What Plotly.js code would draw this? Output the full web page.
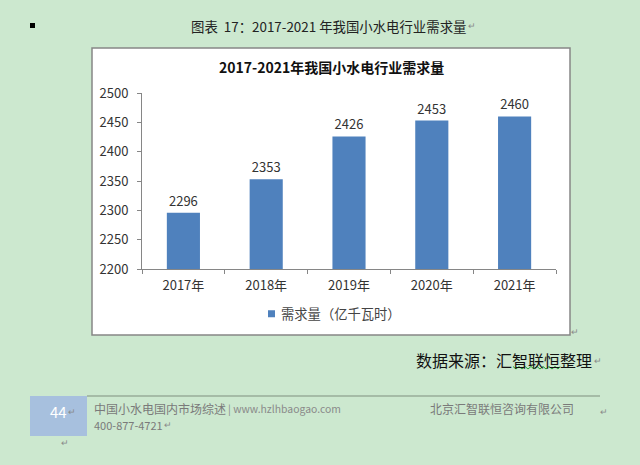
<!DOCTYPE html>
<html><head><meta charset="utf-8">
<script src="https://cdn.plot.ly/plotly-3.0.1.min.js"></script>
<style>html,body{margin:0;padding:0;background:#cce8cf}</style></head>
<body><div id="chart" style="width:640px;height:465px"></div>
<script>
const categories = ["2017年","2018年","2019年","2020年","2021年"];
const demand = [2296,2353,2426,2453,2460];
const seriesName = "需求量（亿千瓦时）";
const chartTitle = "2017-2021年我国小水电行业需求量";
const W = 640, H = 465;
const px = v => v / W, py = v => 1 - v / H;
const F = '"Noto Sans CJK SC","Noto Sans",sans-serif';
const note = (x, y, text, size, color, anchor, extra) => Object.assign({
  xref:'paper', yref:'paper', x:px(x), y:py(y), text, showarrow:false,
  xanchor:anchor||'left', yanchor:'middle',
  font:{family:F, size, color}, borderpad:0
}, extra||{});
const ret = (x, y) => note(x, y, '↵', 9, '#8a8a8a', 'center');
const rect = (x0,y0,x1,y1,fill,line,layer) => ({
  type:'rect', xref:'paper', yref:'paper', x0:px(x0), x1:px(x1), y0:py(y0), y1:py(y1),
  fillcolor:fill, line:line?{color:line,width:1.5}:{width:0}, layer:layer||'below'
});
const hline = (x0,x1,y,c) => ({type:'line',xref:'paper',yref:'paper',x0:px(x0),x1:px(x1),y0:py(y),y1:py(y),line:{color:c,width:1}});
const data = [{
  type:'bar', x:categories, y:demand, name:seriesName,
  marker:{color:'#4f81bd'}, width:0.4,
  text:demand.map(String), textposition:'outside', cliponaxis:false,
  textfont:{family:F,size:13,color:'#333333'}, hoverinfo:'skip'
}];
const layout = {
  width:W, height:H, margin:{l:0,r:0,t:0,b:0},
  paper_bgcolor:'#cce8cf', plot_bgcolor:'rgba(0,0,0,0)',
  showlegend:true,
  legend:{orientation:'h', x:px(241), y:py(314), yanchor:'middle', xanchor:'left',
    font:{family:F,size:13.3,color:'#444444'}, bgcolor:'rgba(0,0,0,0)', itemclick:false},
  xaxis:{type:'category', domain:[px(142),px(556)], tickson:'boundaries', ticks:'outside', ticklen:4,
    tickcolor:'#868686', linecolor:'#868686', showline:true, linewidth:1, showgrid:false,
    ticklabelstandoff:4,
    tickfont:{family:F,size:13,color:'#333333'}, anchor:'y'},
  yaxis:{domain:[py(269),py(93)], range:[2200,2500], tick0:2200, dtick:50, ticks:'outside', ticklen:4,
    tickcolor:'#868686', linecolor:'#868686', showline:true, linewidth:1, showgrid:false,
    ticklabelstandoff:6,
    tickfont:{family:F,size:13,color:'#333333'}, anchor:'x'},
  shapes:[
    rect(92,48,570,335,'#ffffff','#868686'),
    rect(30,396,87,436,'#a7c0de',null),
    rect(30,23,35,28,'#000000',null),
    hline(87,600,396,'#7f8f7f'),
    {type:'path',xref:'paper',yref:'paper',
     path:'M '+[513,516,519,522,525,528,531,534,537,540,543,546,549,552,555,558,560].map((x,i)=>px(x).toFixed(5)+','+py(i%2?369:366.5).toFixed(5)).join(' L '),
     line:{color:'#22a030',width:1}}
  ],
  annotations:[
    note(328,26,'图表  17：2017-2021 年我国小水电行业需求量',13.4,'#222222','center'),
    ret(472,26),
    note(331,67,chartTitle,14,'#111111','center',{font:{family:F,size:14,color:'#111111',weight:700}}),
    note(415,360,'数据来源：汇智联恒整理',16,'#111111','left'),
    ret(598,360), ret(575,331),
    note(58,411,'44',15,'#ffffff','center'), ret(72,411),
    note(93,408.5,'中国小水电国内市场综述',12,'#7a7a7a'),
    note(227,408.5,'| www.hzlhbaogao.com',10.4,'#8a8a8a'),
    note(93,425,'400-877-4721',11,'#7a7a7a'), ret(168,424),
    ret(65,442),
    note(429,408.5,'北京汇智联恒咨询有限公司',12,'#7a7a7a'), ret(604,411)
  ]
};
Plotly.newPlot('chart', data, layout, {staticPlot:true, displayModeBar:false}).then(gd => {
  // Word-chart legend key: a small square sitting close to its label
  gd.querySelectorAll('.legend .legendpoints path').forEach(p => {
    p.setAttribute('d','M3.5,3.5H-3.5V-3.5H3.5Z');
    p.setAttribute('transform','translate(30.5,0)');
  });
});
</script></body></html>
